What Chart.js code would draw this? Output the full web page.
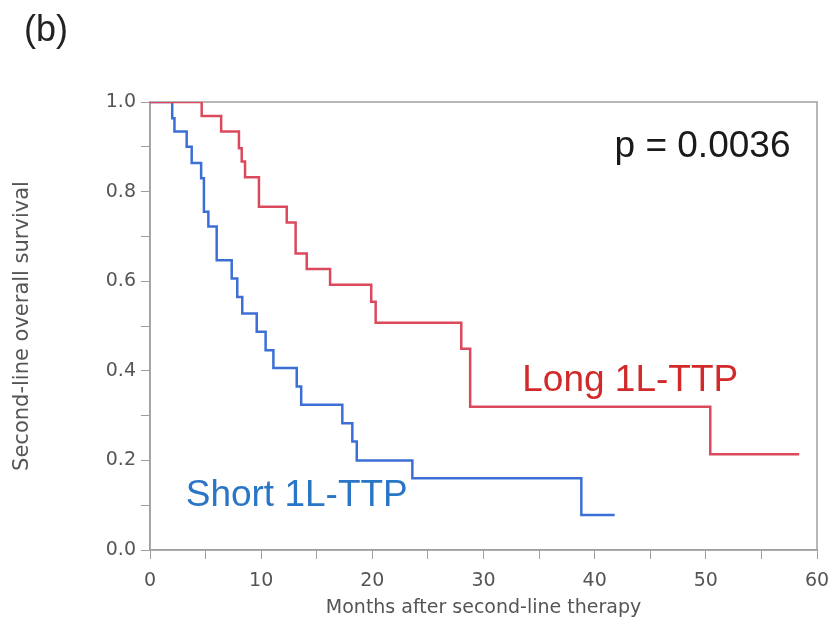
<!doctype html>
<html lang="en">
<head>
    <meta charset="UTF-8" />
    <title>Second-line overall survival</title>
    <style>
        body {
            margin: 0;
            background: #fff;
        }
        .wrap {
            position: relative;
            width: 834px;
            height: 625px;
        }
        .panel {
            position: absolute;
            left: 24px;
            top: 8px;
            font-family: 'Liberation Sans', Arial, sans-serif;
            font-size: 36px;
            color: #222;
        }
    </style>
</head>
<body>
    <div class="wrap">
        <div class="panel">(b)</div>
        <canvas id="kmChart" width="834" height="625"></canvas>
    </div>

    <script src="https://cdn.jsdelivr.net/npm/chart.js"></script>
    <script>
        // Kaplan-Meier steps (months, survival after the drop)
        const longMonths   = [0, 4.65, 6.4, 8.0, 8.25, 8.55, 9.8, 12.3, 13.1, 14.1, 16.2, 19.9, 20.3, 28.0, 28.8, 50.4, 58.4];
        const longSurv     = [1.0, 0.969, 0.934, 0.897, 0.867, 0.832, 0.766, 0.731, 0.662, 0.627, 0.592, 0.554, 0.507, 0.449, 0.32, 0.214, 0.214];
        const shortMonths  = [0, 2.0, 2.2, 3.3, 3.75, 4.6, 4.85, 5.25, 6.0, 7.35, 7.85, 8.3, 9.6, 10.4, 11.1, 13.2, 13.6, 17.3, 18.2, 18.6, 23.6, 38.8, 41.8];
        const shortSurv    = [1.0, 0.964, 0.934, 0.9, 0.864, 0.83, 0.755, 0.722, 0.647, 0.606, 0.565, 0.528, 0.487, 0.446, 0.406, 0.365, 0.324, 0.283, 0.242, 0.2, 0.16, 0.078, 0.078];

        const xTicks = [0, 10, 20, 30, 40, 50, 60];
        const yTicks = [0.0, 0.2, 0.4, 0.6, 0.8, 1.0];

        // text labels placed in data coordinates
        const notes = [
            { text: 'p = 0.0036', x: 49.7, y: 0.9, color: '#1a1a1a', size: 37 },
            { text: 'Long 1L-TTP', x: 43.2, y: 0.377, color: '#d22a2a', size: 37 },
            { text: 'Short 1L-TTP', x: 13.2, y: 0.12, color: '#2a76c6', size: 37 }
        ];

        const toPts = (xs, ys) => xs.map((x, i) => ({ x: x, y: ys[i] }));

        const framePlugin = {
            id: 'frame',
            beforeDatasetsDraw(chart) {
                const a = chart.chartArea, c = chart.ctx;
                c.save();
                c.strokeStyle = '#a0a0a0';
                c.lineWidth = 1.5;
                c.strokeRect(a.left, a.top, a.right - a.left, a.bottom - a.top);
                c.restore();
            },
            afterDatasetsDraw(chart) {
                const c = chart.ctx, xs = chart.scales.x, ys = chart.scales.y;
                c.save();
                c.textAlign = 'center';
                c.textBaseline = 'middle';
                notes.forEach(n => {
                    c.font = n.size + "px 'Liberation Sans', Arial, sans-serif";
                    c.fillStyle = n.color;
                    c.fillText(n.text, xs.getPixelForValue(n.x), ys.getPixelForValue(n.y));
                });
                c.restore();
            }
        };

        const tickFont = { family: "'DejaVu Sans', sans-serif", size: 19 };

        new Chart(document.getElementById('kmChart'), {
            type: 'line',
            data: {
                datasets: [
                    {
                        label: 'Long 1L-TTP',
                        data: toPts(longMonths, longSurv),
                        borderColor: '#da4a5c',
                        borderWidth: 2.5,
                        stepped: 'before',
                        pointRadius: 0,
                        fill: false
                    },
                    {
                        label: 'Short 1L-TTP',
                        data: toPts(shortMonths, shortSurv),
                        borderColor: '#3c6fd6',
                        borderWidth: 2.5,
                        stepped: 'before',
                        pointRadius: 0,
                        fill: false
                    }
                ]
            },
            options: {
                responsive: false,
                animation: false,
                layout: { padding: { top: 102, right: 17, left: 0, bottom: 0 } },
                plugins: { legend: { display: false }, tooltip: { enabled: false } },
                scales: {
                    x: {
                        type: 'linear',
                        min: 0,
                        max: 60,
                        afterFit: s => {
                            s.height = 75;
                            s.paddingLeft = 0;
                            s.paddingRight = 0;
                        },
                        ticks: {
                            stepSize: 5,
                            autoSkip: false,
                            maxRotation: 0,
                            color: '#555',
                            font: tickFont,
                            padding: 11,
                            callback: v => xTicks.includes(v) ? String(v) : ''
                        },
                        grid: { drawOnChartArea: false, tickLength: 9, tickColor: '#a0a0a0' },
                        border: { color: '#a0a0a0', width: 1.5 },
                        title: {
                            display: true,
                            text: 'Months after second-line therapy',
                            color: '#555',
                            font: { family: "'DejaVu Sans', sans-serif", size: 19 },
                            padding: { top: 0, bottom: 6 }
                        }
                    },
                    y: {
                        min: 0,
                        max: 1,
                        afterFit: s => {
                            s.width = 150;
                            s.paddingTop = 0;
                            s.paddingBottom = 0;
                        },
                        ticks: {
                            stepSize: 0.1,
                            autoSkip: false,
                            color: '#555',
                            font: tickFont,
                            padding: 5,
                            callback: v => {
                                const hit = yTicks.find(t => Math.abs(t - v) < 1e-6);
                                return hit !== undefined ? hit.toFixed(1) : '';
                            }
                        },
                        grid: { drawOnChartArea: false, tickLength: 9, tickColor: '#a0a0a0' },
                        border: { color: '#a0a0a0', width: 1.5 },
                        title: {
                            display: true,
                            text: 'Second-line overall survival',
                            color: '#555',
                            font: { family: "'DejaVu Sans', sans-serif", size: 21 },
                            padding: { top: 10, bottom: 0 }
                        }
                    }
                }
            },
            plugins: [framePlugin]
        });
    </script>
</body>
</html>
